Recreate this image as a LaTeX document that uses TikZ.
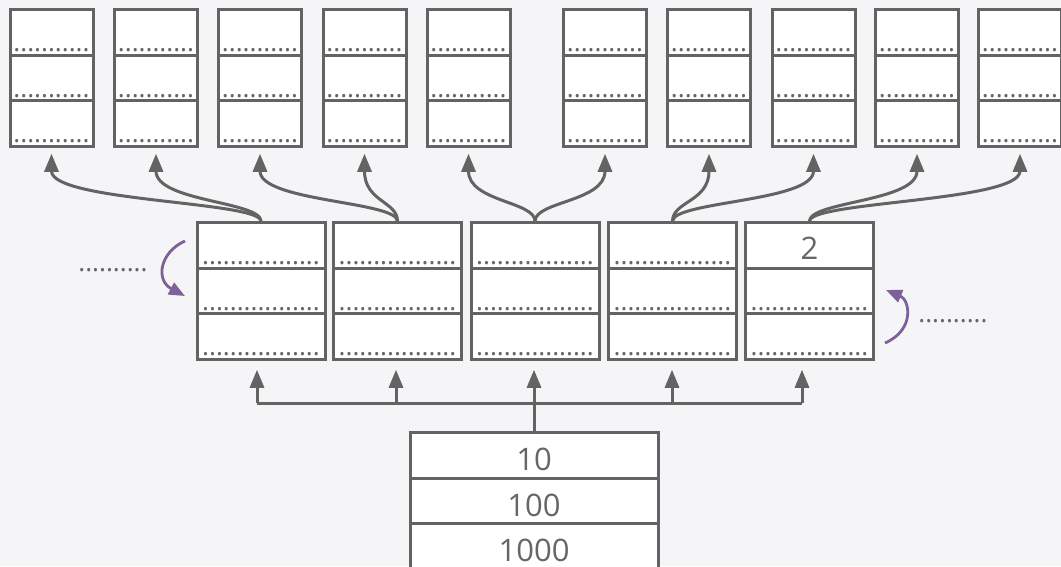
\documentclass[tikz,border=0pt]{standalone}
\usepackage{fontspec}
\setmainfont{Open Sans}
\usetikzlibrary{arrows.meta,positioning,calc}
\definecolor{BoxGray}{HTML}{636363}
\definecolor{PageBg}{HTML}{F5F5F7}
\definecolor{TurnPurple}{HTML}{7D6198}
\definecolor{TextGray}{HTML}{666666}
\tikzset{
  cell/.style={draw=BoxGray, line width=3pt, fill=white, inner sep=0pt, minimum height=45.5pt},
  leaf/.style={cell, minimum width=83pt},
  midcell/.style={cell, minimum width=128pt},
  rootcell/.style={cell, minimum width=248pt, font=\fontsize{31}{31}\selectfont, text=TextGray,
    text height=30pt, text depth=0pt},
  dots/.style={anchor=base, inner sep=0pt, text=TextGray, font=\fontsize{26}{26}\selectfont},
  link/.style={BoxGray, line width=3pt, -{Triangle[length=18pt,width=14pt]}},
  turn/.style={TurnPurple, line width=2.8pt, -{Triangle[length=16pt,width=13pt]}},
}

\begin{document}
\begin{tikzpicture}[x=1pt,y=-1pt]
  \fill[PageBg] (0,0) rectangle (1061,566);
  \useasboundingbox (0,0) rectangle (1061,566);

  % top row: ten small tables
  \foreach \x [count=\i] in {51.5,156,260,364.5,468.5,605,709,813.5,917,1020} {
    \foreach \y [count=\r] in {32.5,78,123.5} {
      \node[leaf] (leaf-\i-\r) at (\x,\y) {};
      \node[dots] (leafdots-\i-\r) at ([yshift=5pt]leaf-\i-\r.south) {...........};
    }
  }

  % middle row: five tables
  \foreach \x [count=\i] in {261,397.5,535,672.5,809.5} {
    \foreach \y [count=\r] in {245.5,291,336.5} {
      \node[midcell] (mid-\i-\r) at (\x,\y) {};
    }
  }
  \foreach \i/\r in {1/1,1/2,1/3,2/1,2/2,2/3,3/1,3/2,3/3,4/1,4/2,4/3,5/2,5/3}
    \node[dots] (middots-\i-\r) at ([yshift=5pt]mid-\i-\r.south) {.................};
  \node[text=TextGray, font=\fontsize{31}{31}\selectfont, inner sep=0pt,
    text height=28pt, text depth=0pt] (two) at (mid-5-1) {2};

  % root table
  \node[rootcell] (root-1) at (534,455.5) {10};
  \node[rootcell] (root-2) at (534,501) {100};
  \node[rootcell] (root-3) at (534,546.5) {1000};

  % root to middle row
  \foreach \x [count=\i] in {257,396,534,672,802}
    \coordinate (bus-\i) at (\x,403);
  \draw[BoxGray, line width=3pt] (root-1.north) -- (bus-3);
  \draw[BoxGray, line width=3pt] (bus-1) -- (bus-5);
  \foreach \i in {1,...,5}
    \draw[link] (bus-\i) -- ($(bus-\i |- mid-\i-3.south)+(0,9)$);

  % middle row to top row
  \foreach \i in {1,...,5} {
    \pgfmathtruncatemacro\a{2*\i-1}
    \pgfmathtruncatemacro\b{2*\i}
    \foreach \j in {\a,\b}
      \draw[link] (mid-\i-1.north) .. controls ($(mid-\i-1.north)+(0,-20)$)
        and ($(leaf-\j-3.south)+(0,54)$) .. ($(leaf-\j-3.south)+(0,6)$);
  }

  % side notes
  \node[dots] (leftdots) at (113,271.5) {..........};
  \node[dots] (rightdots) at (953,322.5) {..........};
  \coordinate (lturn-a) at (185,241);
  \coordinate (lturn-b) at (185,296);
  \coordinate (rturn-a) at (885,343);
  \coordinate (rturn-b) at (886,290);
  \draw[turn] (lturn-a) .. controls (160,252) and (155,280) .. (lturn-b);
  \draw[turn] (rturn-a) .. controls (915,330) and (910,300) .. (rturn-b);
\end{tikzpicture}
\end{document}
